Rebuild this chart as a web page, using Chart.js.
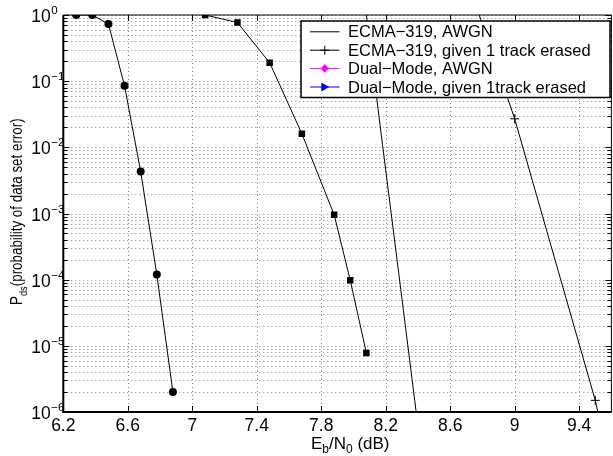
<!DOCTYPE html>
<html><head><meta charset="utf-8">
<script src="https://cdn.jsdelivr.net/npm/chart.js@4/dist/chart.umd.min.js"></script>
<style>
html,body{margin:0;padding:0;background:#fff;overflow:hidden;width:613px;height:456px}
#wrap{position:absolute;left:0;top:0;width:616px;height:456px}
</style>
</head><body>
<div id="wrap"><canvas id="c" width="616" height="456"></canvas></div>
<script>
// ---- data ----
const circleX = [6.28, 6.38, 6.48, 6.58, 6.68, 6.78, 6.88];
const circleY = [1, 1, 0.73, 0.085, 0.0043, 1.2e-4, 2.0e-6];

const squareX = [7.08, 7.28, 7.48, 7.68, 7.88, 7.98, 8.08];
const squareY = [1, 0.77, 0.19, 0.016, 9.6e-4, 9.8e-5, 7.8e-6];

const awgnX = [8.08, 8.18, 8.28, 8.38, 8.48];
const awgnY = [1, 0.011, 1.3e-4, 1.5e-6, 1.6e-8];

const erasedX = [8.78, 9.0, 9.5, 9.6];
const erasedY = [1, 0.027, 1.5e-6, 1.2e-7];

const xTicks = [6.2, 6.6, 7, 7.4, 7.8, 8.2, 8.6, 9, 9.4];
const xTickLabels = ['6.2', '6.6', '7', '7.4', '7.8', '8.2', '8.6', '9', '9.4'];
const yDecades = [0, -1, -2, -3, -4, -5, -6];
const yTickLabels = ['0', '\u22121', '\u22122', '\u22123', '\u22124', '\u22125', '\u22126'];

const legendLabels = ['ECMA\u2212319, AWGN', 'ECMA\u2212319, given 1 track erased',
                      'Dual\u2212Mode, AWGN', 'Dual\u2212Mode, given 1track erased'];
const legendColors = ['#000000', '#000000', '#ff00ff', '#0000ff'];
const legendMarkers = ['none', 'plus', 'diamond', 'triangleRight'];

const xTitleParts = [['E', 0], ['b', 1], ['/N', 0], ['0', 1], [' (dB)', 0]];
const yTitleParts = [['P', 0], ['ds', 1], ['(probability of data set error)', 0]];

// ---- helpers ----
const toPts = (xs, ys) => xs.map((x, i) => ({ x: x, y: ys[i] }));
const FONT = '"Liberation Sans", Arial, Helvetica, sans-serif';

const matlabAxes = {
  id: 'matlabAxes',
  beforeDatasetsDraw(chart) {
    const { ctx, chartArea: a, scales: { x, y } } = chart;
    ctx.save();
    ctx.strokeStyle = 'rgba(0,0,0,0.5)';
    ctx.lineWidth = 1;
    ctx.setLineDash([1, 3]);
    xTicks.forEach(v => {
      const px = Math.round(x.getPixelForValue(v)) + 0.5;
      ctx.beginPath(); ctx.moveTo(px, a.top); ctx.lineTo(px, a.bottom); ctx.stroke();
    });
    for (let k = -6; k <= 0; k++) {
      for (let m = 1; m <= 9; m++) {
        const v = m * Math.pow(10, k);
        if (v > 1.0000001) break;
        const py = Math.round(y.getPixelForValue(v)) + 0.5;
        ctx.beginPath(); ctx.moveTo(a.left, py); ctx.lineTo(a.right, py); ctx.stroke();
      }
    }
    ctx.restore();
  },
  afterDatasetsDraw(chart) {
    const { ctx, chartArea: a, scales: { x, y } } = chart;
    ctx.save();
    ctx.setLineDash([]);
    ctx.strokeStyle = '#000';
    ctx.lineWidth = 1;
    ctx.beginPath(); ctx.moveTo(a.left, a.top); ctx.lineTo(a.right, a.top); ctx.stroke();
    ctx.beginPath(); ctx.moveTo(a.right, a.top); ctx.lineTo(a.right, a.bottom); ctx.stroke();
    ctx.lineWidth = 2;
    ctx.beginPath(); ctx.moveTo(a.left, a.top); ctx.lineTo(a.left, a.bottom + 1); ctx.stroke();
    ctx.beginPath(); ctx.moveTo(a.left - 1, a.bottom); ctx.lineTo(a.right, a.bottom); ctx.stroke();
    ctx.lineWidth = 1;
    xTicks.forEach(v => {
      const px = Math.round(x.getPixelForValue(v)) + 0.5;
      ctx.beginPath(); ctx.moveTo(px, a.bottom); ctx.lineTo(px, a.bottom - 6); ctx.stroke();
      ctx.beginPath(); ctx.moveTo(px, a.top); ctx.lineTo(px, a.top + 6); ctx.stroke();
    });
    for (let k = -6; k <= 0; k++) {
      for (let m = 1; m <= 9; m++) {
        const v = m * Math.pow(10, k);
        if (v > 1.0000001) break;
        const py = Math.round(y.getPixelForValue(v)) + 0.5;
        const len = m === 1 ? 6 : 4;
        ctx.beginPath(); ctx.moveTo(a.left, py); ctx.lineTo(a.left + len, py); ctx.stroke();
        ctx.beginPath(); ctx.moveTo(a.right, py); ctx.lineTo(a.right - len, py); ctx.stroke();
      }
    }
    ctx.fillStyle = '#000';
    ctx.font = '17.5px ' + FONT;
    ctx.textAlign = 'center';
    ctx.textBaseline = 'alphabetic';
    xTicks.forEach((v, i) => {
      ctx.fillText(xTickLabels[i], x.getPixelForValue(v), a.bottom + 19);
    });
    yDecades.forEach((k, i) => {
      const py = y.getPixelForValue(Math.pow(10, k));
      ctx.font = '17.5px ' + FONT;
      ctx.textAlign = 'right';
      ctx.fillText('10', a.left - 12.5, py + 7);
      ctx.font = '11.5px ' + FONT;
      ctx.textAlign = 'left';
      ctx.fillText(yTickLabels[i], a.left - 12, py - 1);
    });
    let tx = 311;
    const tyBase = 448.5;
    xTitleParts.forEach(([t, sub]) => {
      ctx.font = (sub ? '12px ' : '17px ') + FONT;
      ctx.textAlign = 'left';
      ctx.fillText(t, tx, tyBase + (sub ? 4.5 : 0));
      tx += ctx.measureText(t).width;
    });
    ctx.save();
    ctx.translate(22, 305);
    ctx.rotate(-Math.PI / 2);
    ctx.scale(0.81, 1);
    let ty = 0;
    yTitleParts.forEach(([t, sub]) => {
      ctx.font = (sub ? '11.5px ' : '16.5px ') + FONT;
      ctx.textAlign = 'left';
      ctx.fillText(t, ty, sub ? 4.5 : 0);
      ty += ctx.measureText(t).width;
    });
    ctx.restore();
    const L = { left: 301, top: 21, right: 610, bottom: 97.5 };
    ctx.fillStyle = '#fff';
    ctx.fillRect(L.left, L.top, L.right - L.left, L.bottom - L.top);
    ctx.strokeStyle = '#000';
    ctx.lineWidth = 1.5;
    ctx.strokeRect(L.left, L.top, L.right - L.left, L.bottom - L.top);
    legendLabels.forEach((lab, i) => {
      const base = 37.3 + i * 18.4;
      const ly = base - 5.5;
      const col = legendColors[i];
      ctx.strokeStyle = col; ctx.fillStyle = col; ctx.lineWidth = 1;
      ctx.beginPath(); ctx.moveTo(310, ly); ctx.lineTo(339.5, ly); ctx.stroke();
      const cx = 324.8;
      const mk = legendMarkers[i];
      if (mk === 'plus') {
        ctx.beginPath();
        ctx.moveTo(cx - 4.5, ly); ctx.lineTo(cx + 4.5, ly);
        ctx.moveTo(cx, ly - 4.5); ctx.lineTo(cx, ly + 4.5);
        ctx.stroke();
      } else if (mk === 'diamond') {
        ctx.beginPath();
        ctx.moveTo(cx, ly - 4.5); ctx.lineTo(cx + 4, ly); ctx.lineTo(cx, ly + 4.5); ctx.lineTo(cx - 4, ly);
        ctx.closePath(); ctx.fill();
      } else if (mk === 'triangleRight') {
        ctx.beginPath();
        ctx.moveTo(cx + 4.5, ly); ctx.lineTo(cx - 3.5, ly - 4.5); ctx.lineTo(cx - 3.5, ly + 4.5);
        ctx.closePath(); ctx.fill();
      }
      ctx.fillStyle = '#000';
      ctx.font = '16.5px ' + FONT;
      ctx.textAlign = 'left';
      ctx.fillText(lab, 348, base);
    });
    ctx.restore();
  }
};

new Chart(document.getElementById('c'), {
  type: 'scatter',
  data: {
    datasets: [
      { label: 'circles', data: toPts(circleX, circleY), showLine: true,
        borderColor: '#000', backgroundColor: '#000', borderWidth: 1,
        pointStyle: 'circle', pointRadius: 4, pointBorderWidth: 0, tension: 0 },
      { label: 'squares', data: toPts(squareX, squareY), showLine: true,
        borderColor: '#000', backgroundColor: '#000', borderWidth: 1,
        pointStyle: 'rect', pointRadius: 4.6, pointBorderWidth: 0, tension: 0 },
      { label: legendLabels[0], data: toPts(awgnX, awgnY), showLine: true,
        borderColor: '#000', backgroundColor: '#000', borderWidth: 1,
        pointRadius: 0, tension: 0 },
      { label: legendLabels[1], data: toPts(erasedX, erasedY), showLine: true,
        borderColor: '#000', backgroundColor: '#000', borderWidth: 1,
        pointStyle: 'cross', pointBorderWidth: 1,
        pointRadius: c => (c.raw && c.raw.y < 1 && c.raw.y >= 1e-6) ? 4.5 : 0,
        tension: 0 }
    ]
  },
  options: {
    responsive: false,
    animation: false,
    devicePixelRatio: 1,
    layout: { padding: { left: 63.3, right: 0.5, top: 15, bottom: 44 } },
    plugins: { legend: { display: false }, tooltip: { enabled: false } },
    scales: {
      x: { type: 'linear', min: 6.2, max: 9.6, display: false },
      y: { type: 'logarithmic', min: 1e-6, max: 1, display: false }
    }
  },
  plugins: [matlabAxes]
});
</script>
</body></html>
